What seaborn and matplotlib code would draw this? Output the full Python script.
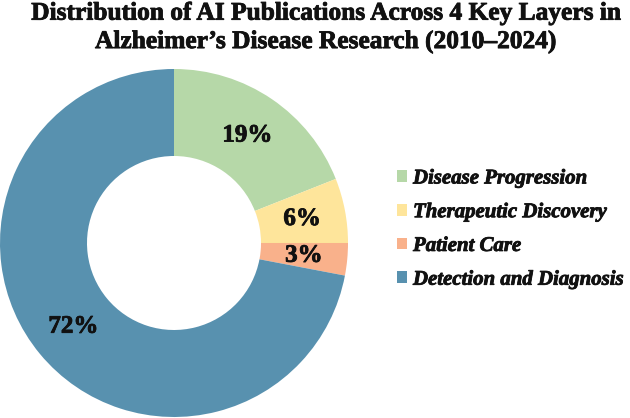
import matplotlib
matplotlib.use("Agg")
import matplotlib.pyplot as plt
import matplotlib.patheffects as pe
from matplotlib.patches import Patch
import seaborn as sns

# Data
categories = ['Disease Progression', 'Therapeutic Discovery', 'Patient Care', 'Detection and Diagnosis']
shares = [19, 6, 3, 72]
colors = ['#b6d8a8', '#fee59b', '#f9b18b', '#5891af']

title = "Distribution of AI Publications Across 4 Key Layers in\nAlzheimer\u2019s Disease Research (2010\u20132024)"

sns.set_theme(style="white")
plt.rcParams['font.family'] = ['Liberation Serif', 'DejaVu Serif']

# slightly heavier strokes, the original font is a dark slab serif
heavy = [pe.withStroke(linewidth=0.6, foreground='#111111')]

fig = plt.figure(figsize=(6.3, 4.18), dpi=100)
ax = fig.add_axes([0.0, 0.0024, 348 / 630, 348 / 418])

wedges, texts, autotexts = ax.pie(
    shares, colors=colors, startangle=90, counterclock=False,
    radius=1, wedgeprops=dict(width=0.5, edgecolor='none'),
    autopct=lambda p: f"{p:.0f}%", pctdistance=0.75,
    textprops=dict(fontsize=18, fontweight='bold', color='#111111'))
for t in autotexts:
    t.set_path_effects(heavy)
ax.set_xlim(-1, 1)
ax.set_ylim(-1, 1)
ax.set_aspect('equal')
ax.axis('off')

fig.text(0.517, 0.996, title, ha='center', va='top', fontsize=18.3,
         fontweight='bold', linespacing=1.3, color='#111111', path_effects=heavy)

handles = [Patch(facecolor=c, edgecolor='none') for c in colors]
leg = fig.legend(handles, categories, loc='center left', bbox_to_anchor=(0.6, 0.452),
                 frameon=False, handlelength=0.5, handleheight=0.5, handletextpad=0.28,
                 labelspacing=0.66, prop=dict(family=['Liberation Serif'], size=15,
                                              weight='bold', style='italic'))
for t in leg.get_texts():
    t.set_color('#111111')
    t.set_path_effects(heavy)

fig.savefig("out.png", dpi=100)
